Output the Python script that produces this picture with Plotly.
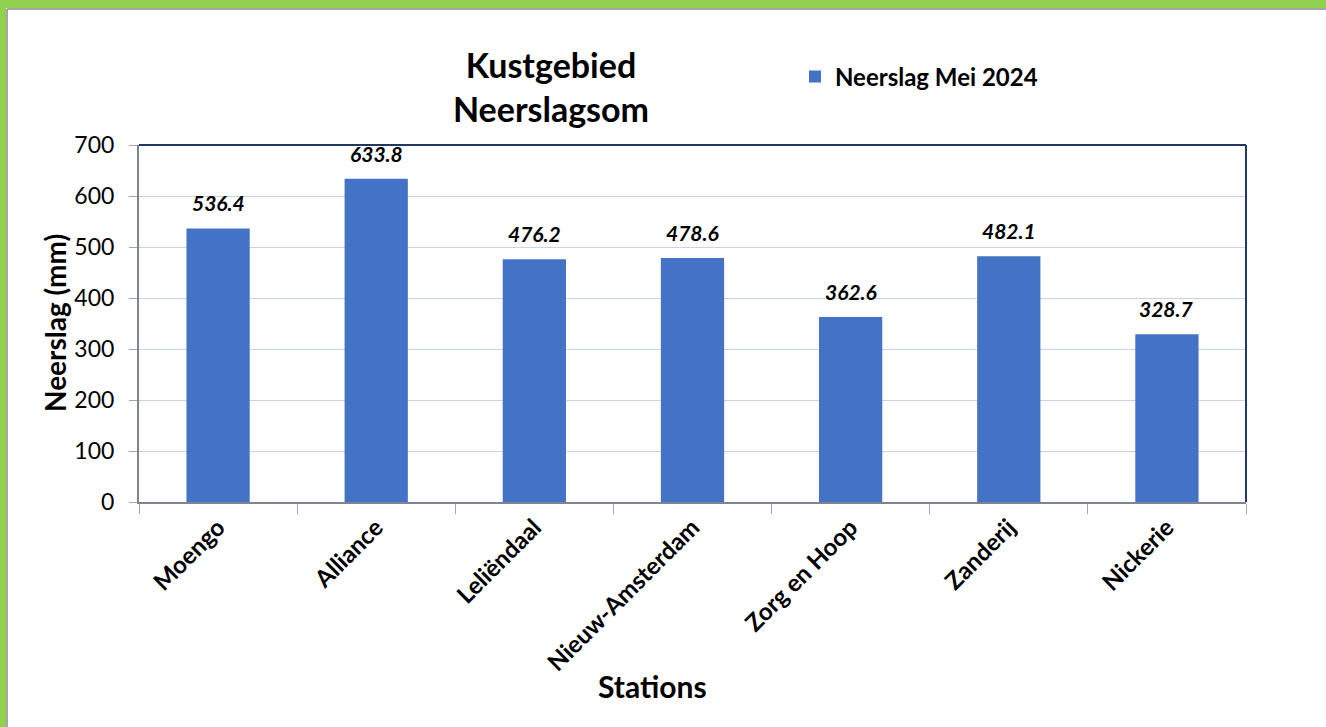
import plotly.graph_objects as go

stations = ["Moengo", "Alliance", "Leliëndaal", "Nieuw-Amsterdam", "Zorg en Hoop", "Zanderij", "Nickerie"]
neerslag = [536.4, 633.8, 476.2, 478.6, 362.6, 482.1, 328.7]

W, H = 1326, 727
L, R, T, B = 139, 1246, 145, 502  # plot area in pixels

def px(x):
    return (x - L) / (R - L)

def py(y):
    return (B - y) / (B - T)

FONT = "Lato"
blue = "#4472C4"

fig = go.Figure()
fig.add_trace(go.Bar(
    x=stations, y=neerslag, name="Neerslag Mei 2024",
    marker=dict(color=blue, line=dict(width=0)),
))

# value labels above the bars
labels = [dict(x=s, y=v, xref="x", yref="y", text=f"<b><i>{v:.1f}</i></b>",
               showarrow=False, yanchor="bottom", yshift=11,
               font=dict(size=21, family=FONT, color="black"))
          for s, v in zip(stations, neerslag)]

fig.update_layout(
    width=W, height=H,
    margin=dict(l=L, r=W - R, t=T, b=H - B),
    paper_bgcolor="white", plot_bgcolor="white",
    font=dict(family=FONT, color="black"),
    bargap=0.6,
    title=dict(text="<b>Kustgebied<br>Neerslagsom</b>", x=551 / W, xanchor="center",
               y=1 - 78 / H, yanchor="middle", font=dict(size=34, family=FONT)),
    showlegend=True,
    legend=dict(x=px(795), y=py(77), xanchor="left", yanchor="middle",
                font=dict(size=24, family=FONT, weight="bold"), bgcolor="rgba(0,0,0,0)"),
    xaxis=dict(showline=True, linecolor="#7F8590", linewidth=2, ticks="outside",
               tickson="boundaries", ticklen=10, tickcolor="#A6A6A6", tickangle=-45,
               tickfont=dict(size=24, family=FONT, weight="bold"), showgrid=False),
    yaxis=dict(range=[0, 700], dtick=100, showline=True, linecolor="#7F8590", linewidth=2,
               ticks="outside", ticklen=8, tickcolor="#A6A6A6", gridcolor="#C5D3EC",
               gridwidth=1, tickfont=dict(size=23, family=FONT), zeroline=False,
               ticklabelstandoff=10),
    annotations=labels + [
        dict(text="<b>Neerslag (mm)</b>", x=px(55), y=py(323), xref="paper", yref="paper",
             xanchor="center", yanchor="middle",
             textangle=-90, showarrow=False, font=dict(size=28, family=FONT)),
        dict(text="<b>Stations</b>", x=px(652), y=py(686), xref="paper", yref="paper",
             xanchor="center", yanchor="middle",
             showarrow=False, font=dict(size=30, family=FONT)),
    ],
    shapes=[
        # top and right frame lines
        dict(type="line", xref="paper", yref="paper", x0=0, x1=1, y0=1, y1=1,
             line=dict(color="#203864", width=2)),
        dict(type="line", xref="paper", yref="paper", x0=1, x1=1, y0=0, y1=1,
             line=dict(color="#203864", width=2)),
        # green border top and left
        dict(type="rect", xref="paper", yref="paper", x0=px(0), x1=px(W), y0=py(0), y1=py(8),
             fillcolor="#92D050", line=dict(width=0), layer="above"),
        dict(type="rect", xref="paper", yref="paper", x0=px(0), x1=px(6), y0=py(0), y1=py(H),
             fillcolor="#92D050", line=dict(width=0), layer="above"),
        dict(type="line", xref="paper", yref="paper", x0=px(7), x1=px(W), y0=py(9), y1=py(9),
             line=dict(color="#A6A6A6", width=2)),
        dict(type="line", xref="paper", yref="paper", x0=px(7), x1=px(7), y0=py(9), y1=py(H),
             line=dict(color="#A6A6A6", width=2)),
    ],
)

fig.write_html("out.html", config={"displayModeBar": False},
               post_script="document.body.style.margin='0';")
